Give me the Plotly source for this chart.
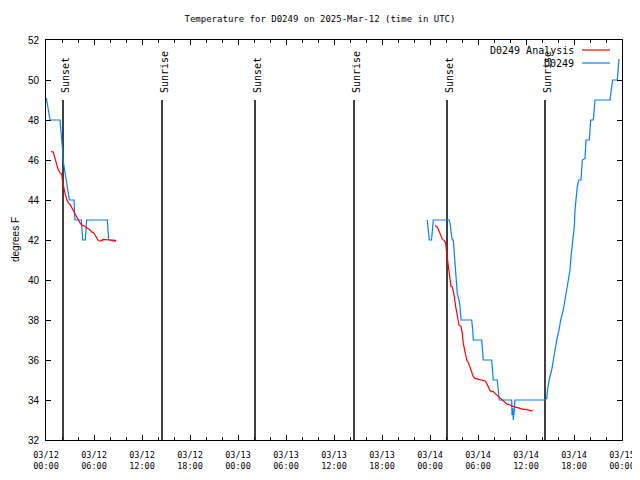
import pandas as pd
import plotly.graph_objects as go

BASE = pd.Timestamp("2025-03-12 00:00")

# Observations (D0249), hours since 03/12 00:00 UTC, two segments
obs_hours_1 = [0.05, 0.2, 0.35, 0.5, 1.75, 1.9, 2.05, 2.17, 2.35, 2.5, 2.67, 2.83, 2.92,
               3.5, 3.62, 4.42, 4.58, 4.92, 5.08, 7.67, 7.83, 8.58, 8.75]
obs_temps_1 = [49.1, 48.7, 48.3, 48.0, 48.0, 47.4, 46.6, 45.9, 45.4, 45.0, 44.7, 44.3, 44.0,
               44.0, 43.0, 43.0, 42.0, 42.0, 43.0, 43.0, 42.0, 42.0, 41.95]
obs_hours_2 = [47.66, 47.79, 47.91, 48.19, 48.31, 48.41, 50.41, 50.54, 50.66, 50.79, 50.91,
               51.04, 51.125, 51.25, 51.41, 51.625, 51.75, 51.875, 53.21, 53.34, 53.41,
               54.46, 54.59, 54.66, 55.71, 55.84, 55.91, 56.41, 56.54, 56.66, 58.21,
               58.25, 58.35, 58.41, 58.55, 58.62, 62.375, 62.59, 62.69, 62.91, 63.21,
               63.41, 63.625, 63.84, 64.125, 64.34, 64.66, 64.875, 65.09, 65.29, 65.5,
               65.625, 65.79, 65.91, 66.04, 66.125, 66.25, 66.41, 66.59, 66.875, 67.04,
               67.375, 67.5, 67.91, 68.09, 68.41, 68.625, 70.5, 70.71, 70.84, 71.41,
               71.54, 71.625]
obs_temps_2 = [43.0, 42.3, 42.0, 42.0, 42.5, 43.0, 43.0, 42.75, 42.33, 42.0, 42.0,
               41.3, 40.5, 39.75, 39.33, 39.0, 38.67, 38.0, 38.0, 37.5, 37.0,
               37.0, 36.3, 36.0, 36.0, 35.3, 35.0, 35.0, 34.3, 34.0, 34.0,
               33.25, 33.6, 33.0, 33.5, 34.0, 34.0, 34.08, 34.5, 35.05, 35.5,
               36.0, 36.5, 37.0, 37.5, 38.0, 38.5, 39.0, 39.33, 39.83, 40.5,
               41.17, 41.67, 42.0, 42.67, 43.5, 44.0, 44.67, 45.0, 45.0, 46.0,
               46.08, 47.0, 47.0, 48.0, 48.0, 49.0, 49.0, 49.67, 50.0, 50.0,
               51.0, 51.05]

# Analysis (D0249 Analysis)
ana_hours_1 = [0.625, 0.91, 1.125, 1.33, 1.54, 1.75, 1.96, 2.04, 2.17, 2.375, 2.58, 2.79,
               3.0, 3.21, 3.41, 3.625, 3.83, 4.04, 4.25, 4.46, 4.67, 4.875, 5.29, 5.5,
               5.71, 5.92, 6.125, 6.33, 6.54, 6.75, 6.96, 7.17, 7.58, 7.79, 8.0, 8.21,
               8.42, 8.625, 8.75]
ana_temps_1 = [46.42, 46.4, 46.08, 45.75, 45.5, 45.37, 45.3, 45.0, 44.7, 44.33, 44.05, 43.85,
               43.78, 43.62, 43.42, 43.27, 43.12, 42.95, 42.85, 42.75, 42.73, 42.67, 42.58, 42.5,
               42.4, 42.38, 42.25, 42.08, 41.97, 41.95, 41.97, 42.03, 42.03, 42.0, 42.0, 41.98,
               41.95, 41.97, 41.93]
ana_hours_2 = [48.625, 48.91, 49.16, 49.34, 49.54, 49.79, 49.96, 50.09, 50.21, 50.375, 50.5,
               50.625, 50.79, 50.91, 51.04, 51.21, 51.41, 51.625, 51.875, 52.04, 52.16,
               52.375, 52.59, 52.79, 53.0, 53.21, 53.41, 53.625, 54.04, 54.34, 54.875,
               55.09, 55.29, 55.5, 55.71, 55.91, 56.125, 56.34, 56.54, 56.96, 57.16,
               57.59, 58.0, 58.41, 58.84, 59.25, 59.66, 60.09, 60.5, 60.84]
ana_temps_2 = [42.72, 42.65, 42.42, 42.25, 42.03, 41.97, 41.83, 41.33, 40.92, 40.58, 40.17,
               39.67, 39.65, 39.47, 39.17, 38.67, 38.25, 37.75, 37.67, 37.33, 36.83,
               36.33, 36.0, 35.88, 35.67, 35.42, 35.17, 35.08, 35.03, 35.0, 34.95,
               34.83, 34.63, 34.47, 34.42, 34.42, 34.33, 34.25, 34.17, 34.03, 33.92,
               33.8, 33.75, 33.67, 33.63, 33.58, 33.53, 33.53, 33.47, 33.47]

# Sun events (hours since start)
sun_hours = [2.125, 14.5, 26.125, 38.5, 50.125, 62.375]
sun_labels = ["Sunset", "Sunrise", "Sunset", "Sunrise", "Sunset", "Sunrise"]
sun_line_top = 49

# Axis ticks
tick_hours = [0, 6, 12, 18, 24, 30, 36, 42, 48, 54, 60, 66, 72]
tick_labels = ["03/12<br>00:00", "03/12<br>06:00", "03/12<br>12:00", "03/12<br>18:00",
               "03/13<br>00:00", "03/13<br>06:00", "03/13<br>12:00", "03/13<br>18:00",
               "03/14<br>00:00", "03/14<br>06:00", "03/14<br>12:00", "03/14<br>18:00",
               "03/15<br>00:00"]
y_min, y_max = 32, 52

TITLE = "Temperature for D0249 on 2025-Mar-12 (time in UTC)"
Y_TITLE = "degrees F"
BLUE = "#0a7ef5"
RED = "#ff0000"
MONO = "DejaVu Sans Mono"

# the page body adds an 8px offset, so the figure is 8px smaller
FIG_W, FIG_H = 632, 472


def to_time(hours):
    return [BASE + pd.Timedelta(hours=h) for h in hours]


def join(h1, v1, h2, v2):
    return to_time(h1) + [None] + to_time(h2), list(v1) + [None] + list(v2)


fig = go.Figure()

ox, oy = join(obs_hours_1, obs_temps_1, obs_hours_2, obs_temps_2)
ax, ay = join(ana_hours_1, ana_temps_1, ana_hours_2, ana_temps_2)

fig.add_trace(go.Scatter(x=ox, y=oy, mode="lines", line=dict(color=BLUE, width=1.2),
                         name="D0249", showlegend=False, connectgaps=False))
fig.add_trace(go.Scatter(x=ax, y=ay, mode="lines", line=dict(color=RED, width=1.2),
                         name="D0249 Analysis", showlegend=False, connectgaps=False))

for h, lab in zip(sun_hours, sun_labels):
    t = BASE + pd.Timedelta(hours=h)
    fig.add_shape(type="line", xref="x", yref="y", x0=t, x1=t, y0=y_min, y1=sun_line_top,
                  line=dict(color="black", width=1.5), layer="below")
    fig.add_annotation(x=t, y=sun_line_top, xref="x", yref="y", text=lab, textangle=-90,
                       showarrow=False, xanchor="center", yanchor="bottom",
                       xshift=2, yshift=5, font=dict(family=MONO, size=10, color="black"))

# gnuplot-style key: text right-aligned, sample line to the right
legend_items = [("D0249 Analysis", RED), ("D0249", BLUE)]
for i, (name, col) in enumerate(legend_items):
    ypx = 10 + 13 * i          # px below plot top
    yp = (400 - ypx) / 400
    fig.add_annotation(x=530 / 576, y=yp, xref="paper", yref="paper", text=name,
                       showarrow=False, xanchor="right", yanchor="middle",
                       font=dict(family=MONO, size=10, color="black"))
    fig.add_shape(type="line", xref="paper", yref="paper",
                  x0=536 / 576, x1=564 / 576, y0=yp, y1=yp,
                  line=dict(color=col, width=1.2))

# y-axis title placed like gnuplot's ylabel
fig.add_annotation(x=-31 / 576, y=0.5, xref="paper", yref="paper", text=Y_TITLE,
                   textangle=-90, showarrow=False, xanchor="center", yanchor="middle",
                   font=dict(family="Liberation Sans", size=10, color="black"))

fig.update_layout(
    width=FIG_W, height=FIG_H,
    margin=dict(l=38, r=18, t=32, b=40, pad=0, autoexpand=False),
    paper_bgcolor="white", plot_bgcolor="white",
    title=dict(text=TITLE, x=312 / FIG_W, xanchor="center", xref="container",
               y=1 - 11 / FIG_H, yref="container", yanchor="middle", automargin=False,
               font=dict(family=MONO, size=9, color="black")),
    font=dict(family=MONO, size=9, color="black"),
    showlegend=False,
)
fig.update_xaxes(
    range=[BASE, BASE + pd.Timedelta(hours=72)],
    tickvals=to_time(tick_hours), ticktext=tick_labels,
    ticks="inside", ticklen=5, tickcolor="black", tickwidth=1,
    showline=True, linecolor="black", linewidth=1, mirror="allticks",
    showgrid=False, zeroline=False, automargin=False, ticklabelstandoff=7,
    tickfont=dict(family=MONO, size=8.5),
    minor=dict(tickvals=to_time(list(range(0, 73, 2))), ticks="inside", ticklen=3,
               tickcolor="black", showgrid=False),
)
fig.update_yaxes(
    range=[y_min, y_max], dtick=2, tick0=32,
    ticks="inside", ticklen=5, tickcolor="black", tickwidth=1,
    showline=True, linecolor="black", linewidth=1, mirror="allticks",
    showgrid=False, zeroline=False, automargin=False, ticklabelstandoff=4,
    tickfont=dict(family="Liberation Sans", size=10),
)

fig.write_html("out.html")
